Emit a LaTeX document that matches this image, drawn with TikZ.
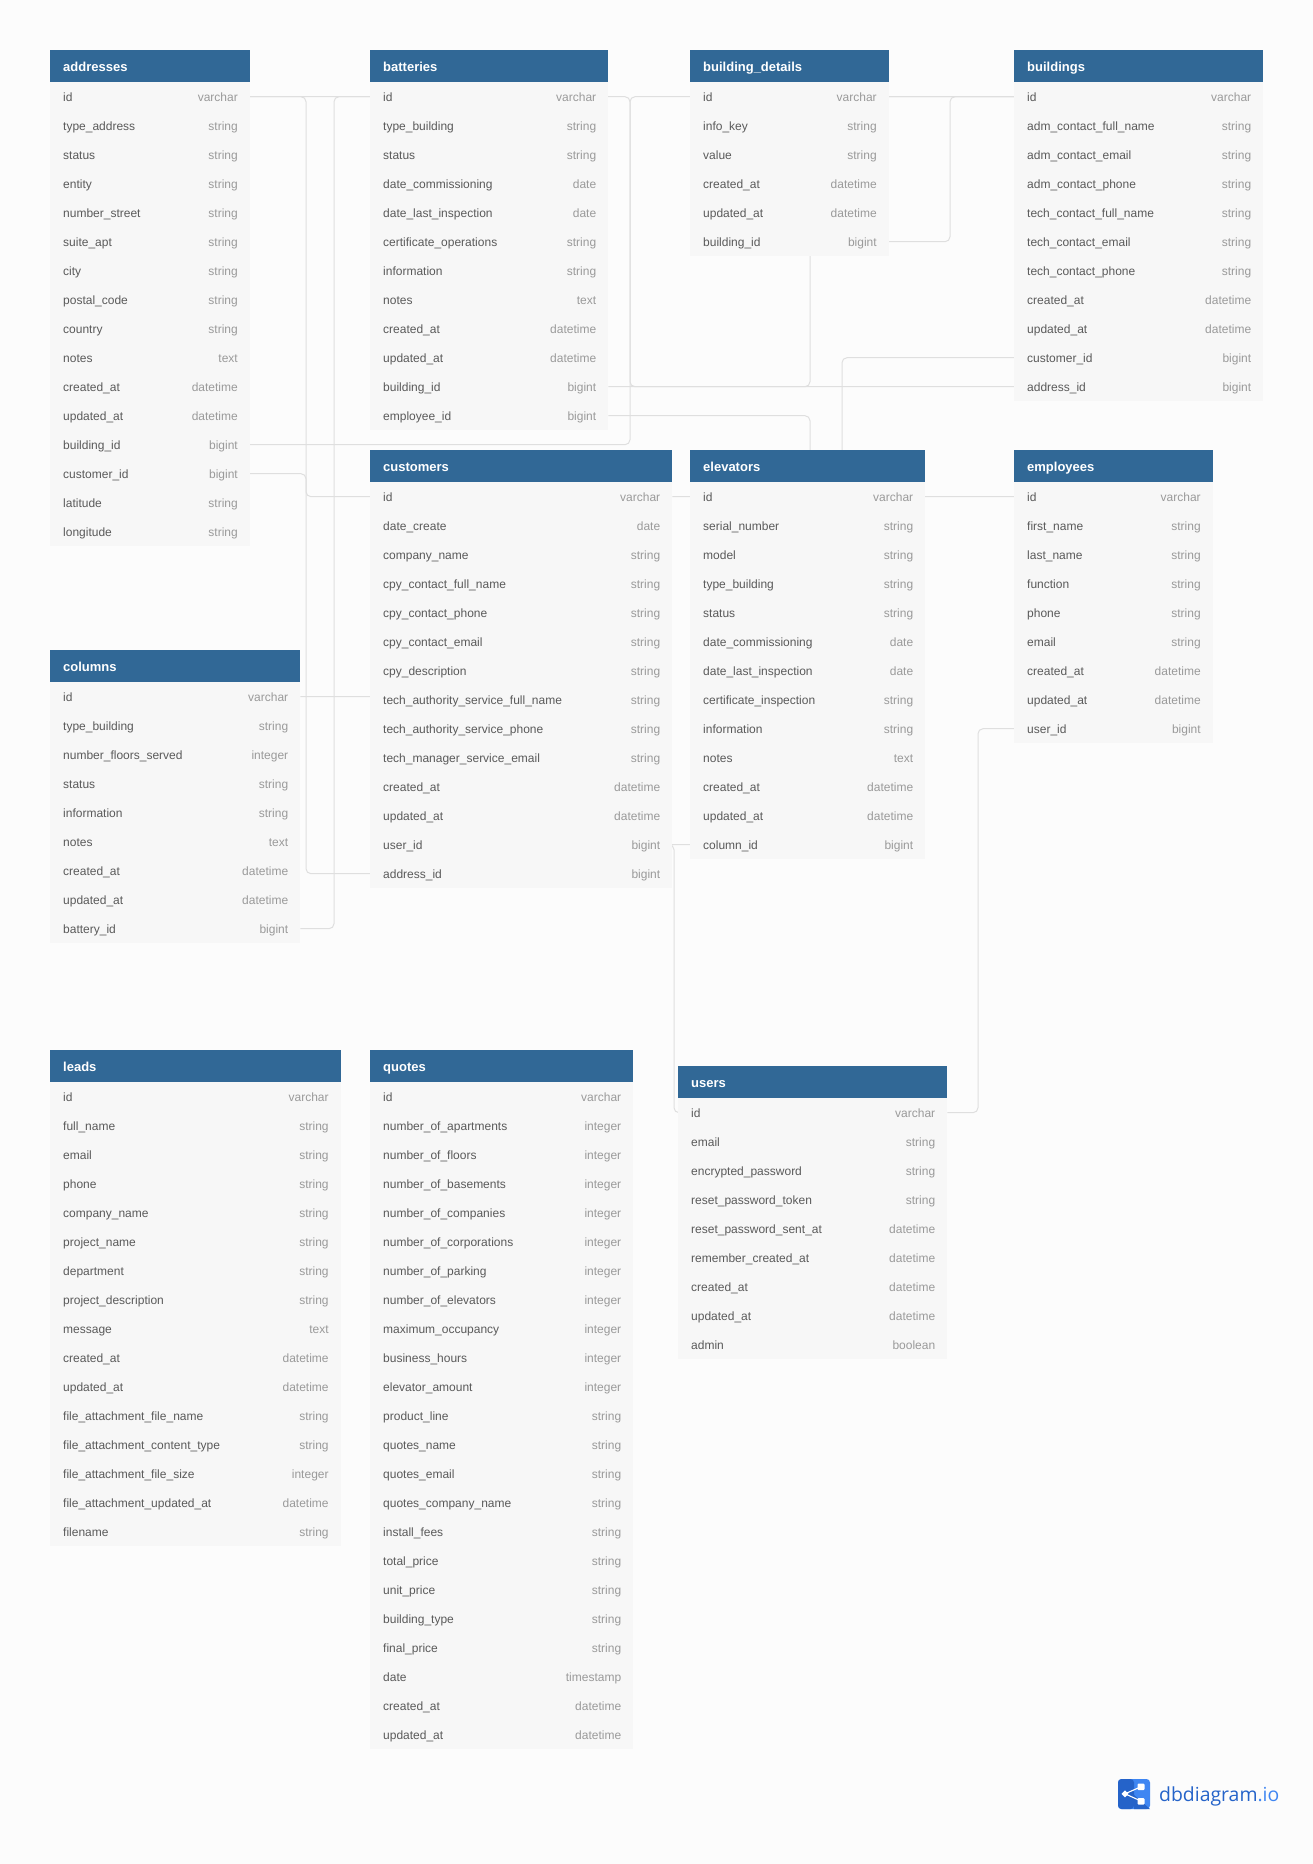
\documentclass[tikz,border=0pt]{standalone}
\usepackage{fontspec}
\setmainfont{Liberation Sans}
\newfontfamily\logofont{Open Sans}
\usetikzlibrary{backgrounds}
\definecolor{canvas}{HTML}{FCFCFC}
\definecolor{headblue}{HTML}{316896}
\definecolor{rowgray}{HTML}{F7F7F7}
\definecolor{namegray}{HTML}{5A5A5A}
\definecolor{typegray}{HTML}{9A9A9A}
\definecolor{linegray}{HTML}{DFDFDF}
\definecolor{logodark}{HTML}{2563C9}
\definecolor{logolight}{HTML}{3F86F2}
\tikzset{
  tablehead/.style={anchor=north west,fill=headblue,text=white,inner sep=0pt,minimum height=32pt,
    text height=12pt,text depth=2pt,font=\fontsize{13}{14}\selectfont\bfseries,align=left},
  tablerow/.style={anchor=west,fill=rowgray,inner sep=0pt,minimum height=29.3pt},
  fieldname/.style={anchor=mid west,inner sep=0pt,text=namegray},
  fieldtype/.style={anchor=mid east,inner sep=0pt,text=typegray},
  relation/.style={draw=linegray,line width=1pt,rounded corners=5pt},
}
\catcode`\_=12
% name, left, top, width, fields
\newcommand{\dbtable}[5]{
  \foreach \fname/\ftype [count=\i from 0] in {#5} {
    \node [tablerow,minimum width=#4pt] (#1-\fname) at (#2,#3+46.7+29*\i) {};
    \node [fieldname] (#1-\fname-name) at ([xshift=13pt,yshift=-2pt]#1-\fname.west) {\fname};
    \node [fieldtype] (#1-\fname-type) at ([xshift=-12pt,yshift=-2pt]#1-\fname.east) {\ftype};
  }
  \node [tablehead,text width=#4pt] (#1) at (#2,#3) {\hspace*{13pt}#1};
}
\begin{document}
\begin{tikzpicture}[x=1pt,y=-1pt,font=\fontsize{12}{14}\selectfont]

  \useasboundingbox (0,0) rectangle (1313,1864);

  \dbtable{addresses}{50}{50}{199.6}{id/varchar,type_address/string,status/string,entity/string,number_street/string,suite_apt/string,city/string,postal_code/string,country/string,notes/text,created_at/datetime,updated_at/datetime,building_id/bigint,customer_id/bigint,latitude/string,longitude/string}
  \dbtable{batteries}{370}{50}{238}{id/varchar,type_building/string,status/string,date_commissioning/date,date_last_inspection/date,certificate_operations/string,information/string,notes/text,created_at/datetime,updated_at/datetime,building_id/bigint,employee_id/bigint}
  \dbtable{building_details}{690}{50}{198.5}{id/varchar,info_key/string,value/string,created_at/datetime,updated_at/datetime,building_id/bigint}
  \dbtable{buildings}{1014}{50}{249}{id/varchar,adm_contact_full_name/string,adm_contact_email/string,adm_contact_phone/string,tech_contact_full_name/string,tech_contact_email/string,tech_contact_phone/string,created_at/datetime,updated_at/datetime,customer_id/bigint,address_id/bigint}
  \dbtable{customers}{370}{450}{302}{id/varchar,date_create/date,company_name/string,cpy_contact_full_name/string,cpy_contact_phone/string,cpy_contact_email/string,cpy_description/string,tech_authority_service_full_name/string,tech_authority_service_phone/string,tech_manager_service_email/string,created_at/datetime,updated_at/datetime,user_id/bigint,address_id/bigint}
  \dbtable{elevators}{690}{450}{235}{id/varchar,serial_number/string,model/string,type_building/string,status/string,date_commissioning/date,date_last_inspection/date,certificate_inspection/string,information/string,notes/text,created_at/datetime,updated_at/datetime,column_id/bigint}
  \dbtable{employees}{1014}{450}{198.5}{id/varchar,first_name/string,last_name/string,function/string,phone/string,email/string,created_at/datetime,updated_at/datetime,user_id/bigint}
  \dbtable{columns}{50}{650}{250}{id/varchar,type_building/string,number_floors_served/integer,status/string,information/string,notes/text,created_at/datetime,updated_at/datetime,battery_id/bigint}
  \dbtable{leads}{50}{1050}{290.4}{id/varchar,full_name/string,email/string,phone/string,company_name/string,project_name/string,department/string,project_description/string,message/text,created_at/datetime,updated_at/datetime,file_attachment_file_name/string,file_attachment_content_type/string,file_attachment_file_size/integer,file_attachment_updated_at/datetime,filename/string}
  \dbtable{quotes}{370}{1050}{263}{id/varchar,number_of_apartments/integer,number_of_floors/integer,number_of_basements/integer,number_of_companies/integer,number_of_corporations/integer,number_of_parking/integer,number_of_elevators/integer,maximum_occupancy/integer,business_hours/integer,elevator_amount/integer,product_line/string,quotes_name/string,quotes_email/string,quotes_company_name/string,install_fees/string,total_price/string,unit_price/string,building_type/string,final_price/string,date/timestamp,created_at/datetime,updated_at/datetime}
  \dbtable{users}{678}{1066}{269}{id/varchar,email/string,encrypted_password/string,reset_password_token/string,reset_password_sent_at/datetime,remember_created_at/datetime,created_at/datetime,updated_at/datetime,admin/boolean}

  \coordinate (bus addresses) at (306,0);
  \coordinate (bus batteries) at (334,0);
  \coordinate (bus columns) at (495,0);
  \coordinate (bus long) at (630,0);
  \coordinate (bus users) at (674,0);
  \coordinate (bus middle) at (810,0);
  \coordinate (bus customers) at (842,0);
  \coordinate (bus details) at (950,0);
  \coordinate (bus employees) at (978,0);

  \begin{scope}[on background layer]
    \fill[canvas] (0,0) rectangle (1313,1864);
    \draw[relation] (addresses-id.east) -- (addresses-id.east -| bus addresses) -- (customers-address_id.west -| bus addresses) -- (customers-address_id.west);
    \draw[relation] (addresses-customer_id.east) -- (addresses-customer_id.east -| bus addresses) -- (customers-id.west -| bus addresses) -- (customers-id.west);
    \draw[relation] (batteries-id.west) -- (batteries-id.west -| bus batteries) -- (columns-battery_id.east -| bus batteries) -- (columns-battery_id.east);
    \draw[relation] (addresses-id.east) -- (addresses-id.east -| bus long) -- (buildings-address_id.west -| bus long) -- (buildings-address_id.west);
    \draw[relation] (addresses-building_id.east) -- (addresses-building_id.east -| bus long) -- (buildings-id.west -| bus long) -- (buildings-id.west);
    \draw[relation] (batteries-building_id.east) -- (batteries-building_id.east -| bus middle) -- (buildings-id.west -| bus middle) -- (buildings-id.west);
    \draw[relation] (batteries-employee_id.east) -- (batteries-employee_id.east -| bus middle) -- (employees-id.west -| bus middle) -- (employees-id.west);
    \draw[relation] (building_details-building_id.east) -- (building_details-building_id.east -| bus details) -- (buildings-id.west -| bus details) -- (buildings-id.west);
    \draw[relation] (buildings-customer_id.west) -- (buildings-customer_id.west -| bus customers) -- (customers-id.east -| bus customers) -- (customers-id.east);
    \draw[relation] (columns-id.east) -- (columns-id.east -| bus columns) -- (elevators-column_id.west -| bus columns) -- (elevators-column_id.west);
    \draw[relation] (customers-user_id.east) -- (customers-user_id.east -| bus users) -- (users-id.west -| bus users) -- (users-id.west);
    \draw[relation] (employees-user_id.west) -- (employees-user_id.west -| bus employees) -- (users-id.east -| bus employees) -- (users-id.east);
  \end{scope}

  % logo
  \fill[logolight,rounded corners=3.5pt] (1118,1779) rectangle (1150,1809);
  \fill[logodark,rounded corners=3.5pt] (1118,1779) -- (1134,1779) -- (1134,1809) -- (1118,1809) -- cycle;
  \fill[logodark] (1134,1795) -- (1150,1809) -- (1134,1809) -- cycle;
  \draw[white,line width=1.1pt] (1141,1786.7) -- (1125,1793.8) -- (1141,1801);
  \fill[white,rounded corners=1pt] (1137.5,1783.5) rectangle (1144.5,1790);
  \fill[white,rounded corners=1pt] (1137.5,1798) rectangle (1144.5,1804.5);
  \fill[white] (1121.5,1793.8) -- (1125,1790.3) -- (1128.5,1793.8) -- (1125,1797.3) -- cycle;
  \node [anchor=mid west,inner sep=0pt,font=\logofont\fontsize{19.4}{24}\selectfont,text=logodark] (logo text) at (1159,1799) {dbdiagram\textcolor{logolight}{.io}};

\end{tikzpicture}
\end{document}
